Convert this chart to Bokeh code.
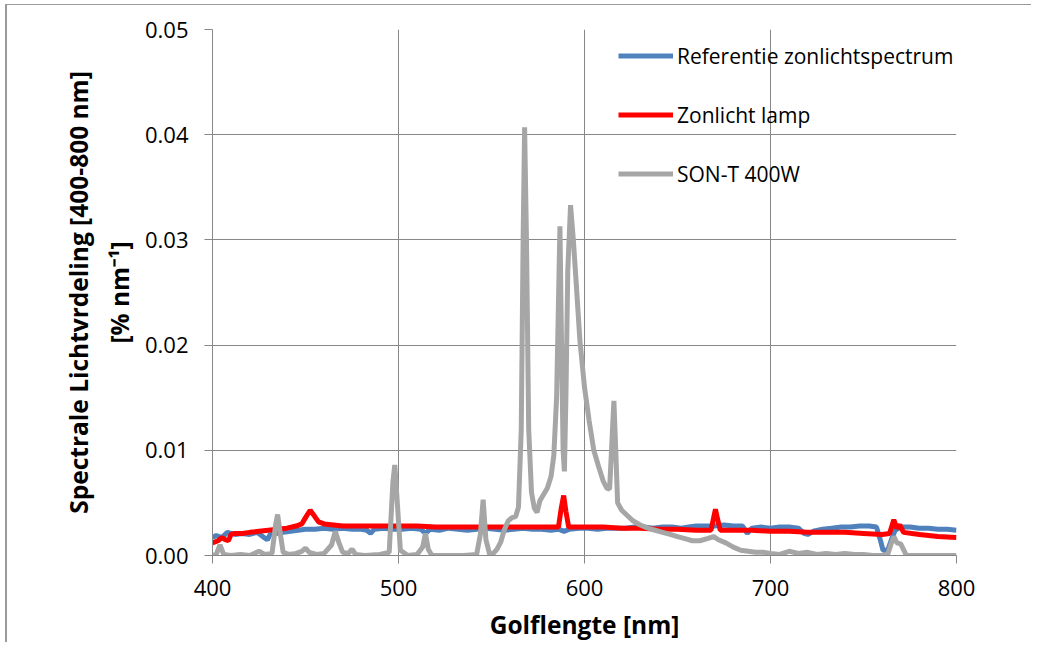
from bokeh.plotting import figure
from bokeh.models import (Range1d, SingleIntervalTicker, NumeralTickFormatter,
                          Legend, LegendItem, Title)
from bokeh.embed import file_html
from bokeh.resources import INLINE

# ---------------- data ----------------
ref_nm = [400, 402, 405, 408, 412, 416, 420, 424, 427, 429.5, 431, 434, 438, 442, 446,
          450, 455, 460, 465, 470, 475, 480, 483, 485, 487, 492, 497, 502, 507, 512,
          514.5, 517, 522, 527, 532, 537, 542, 547, 552, 557, 562, 567, 572, 577, 582,
          586, 589, 592, 597, 602, 607, 612, 617, 622, 627, 632, 637, 642, 647, 652,
          656, 660, 665, 670, 675, 680, 685, 687.5, 690, 695, 700, 705, 710, 715, 718,
          720, 723, 728, 733, 738, 743, 748, 753, 757, 759, 760.5, 763, 765, 767, 770,
          775, 780, 785, 790, 795, 800]
ref_val = [0.0017, 0.0019, 0.0017, 0.0022, 0.0020, 0.0021, 0.0020, 0.0022, 0.0018, 0.0015,
           0.0020, 0.0021, 0.0022, 0.0023, 0.0024, 0.0025, 0.0025, 0.0026, 0.0025, 0.0026,
           0.0025, 0.0025, 0.0024, 0.0021, 0.0025, 0.0026, 0.0025, 0.0025, 0.0026, 0.0025,
           0.0021, 0.0025, 0.0024, 0.0026, 0.0025, 0.0024, 0.0025, 0.0026, 0.0025, 0.0024,
           0.0025, 0.0026, 0.0025, 0.0025, 0.0024, 0.0025, 0.0023, 0.0025, 0.0026, 0.0026,
           0.0025, 0.0026, 0.0026, 0.0026, 0.0027, 0.0027, 0.0026, 0.0027, 0.0027, 0.0026,
           0.0027, 0.0028, 0.0028, 0.0028, 0.0029, 0.0028, 0.0028, 0.0021, 0.0026, 0.0027,
           0.0026, 0.0027, 0.0027, 0.0026, 0.0021, 0.0020, 0.0023, 0.0025, 0.0026, 0.0027,
           0.0027, 0.0028, 0.0028, 0.0027, 0.0015, 0.0005, 0.0005, 0.0015, 0.0024, 0.0027,
           0.0027, 0.0026, 0.0026, 0.0025, 0.0025, 0.0024]

lamp_nm = [400, 403, 405, 407, 408.5, 410, 412, 416, 420, 425, 430, 435, 440, 445, 448,
           450, 452.5, 455, 457, 460, 465, 470, 480, 490, 500, 510, 520, 530, 540, 550,
           560, 570, 580, 586, 587.5, 588.8, 590, 591.5, 600, 610, 620, 630, 640, 650,
           660, 668, 669.3, 670.4, 671.5, 673, 680, 690, 700, 710, 720, 730, 740, 750,
           760, 764, 766.3, 767.8, 769.5, 771.5, 780, 790, 800]
lamp_val = [0.0012, 0.0014, 0.0017, 0.0015, 0.0014, 0.0020, 0.0021, 0.0021, 0.0022, 0.0023,
            0.0024, 0.0025, 0.0026, 0.0028, 0.0030, 0.0036, 0.0043, 0.0037, 0.0032, 0.0030,
            0.0029, 0.0028, 0.0028, 0.0028, 0.0028, 0.0028, 0.0027, 0.0027, 0.0027, 0.0027,
            0.0027, 0.0027, 0.0027, 0.0027, 0.0045, 0.0057, 0.0042, 0.0027, 0.0027, 0.0027,
            0.0026, 0.0026, 0.0025, 0.0025, 0.0024, 0.0024, 0.0035, 0.0044, 0.0035, 0.0024,
            0.0024, 0.0024, 0.0023, 0.0023, 0.0022, 0.0022, 0.0022, 0.0021, 0.0020, 0.0021,
            0.0034, 0.0026, 0.0029, 0.0022, 0.0020, 0.0018, 0.0017]

son_nm = [400, 402, 404, 406, 410, 415, 420, 425, 428, 432, 434, 435, 436.5, 438, 441,
          445, 448, 450, 452, 456, 460, 464, 466, 468, 470, 473, 475, 477, 482, 490,
          495, 497, 498, 499, 501, 505, 510, 513, 514.5, 516, 518, 525, 535, 542, 544,
          545.5, 547, 549, 551, 553, 555, 557, 559, 561, 563, 564.5, 566, 567, 567.8,
          568.8, 570, 571.5, 573, 574.5, 576, 578, 580, 582, 583.5, 585, 586, 586.8,
          587.5, 588.5, 589.2, 590, 591, 592.5, 594, 595.5, 597.5, 600, 602.5, 605,
          607.5, 610, 612, 613.5, 614.8, 615.8, 616.8, 617.8, 620, 623, 626, 630, 634,
          638, 642, 646, 650, 654, 658, 662, 666, 669.5, 672, 676, 680, 684, 688, 692,
          696, 700, 705, 710, 715, 720, 725, 730, 735, 740, 745, 750, 755, 760, 763,
          765, 766.3, 768, 770, 772, 773, 780, 790, 800]
son_val = [0.0000, 0.0001, 0.0010, 0.0001, 0.0000, 0.0001, 0.0000, 0.0004, 0.0001, 0.0002,
           0.0030, 0.0039, 0.0020, 0.0003, 0.0001, 0.0002, 0.0004, 0.0007, 0.0003, 0.0001,
           0.0002, 0.0010, 0.0023, 0.0012, 0.0003, 0.0002, 0.0006, 0.0001, 0.0000, 0.0001,
           0.0003, 0.0070, 0.0086, 0.0060, 0.0005, 0.0000, 0.0001, 0.0008, 0.0021, 0.0006,
           0.0000, 0.0000, 0.0000, 0.0001, 0.0020, 0.0053, 0.0015, 0.0001, 0.0002, 0.0006,
           0.0013, 0.0025, 0.0033, 0.0036, 0.0037, 0.0046, 0.0120, 0.0300, 0.0407, 0.0300,
           0.0120, 0.0060, 0.0045, 0.0041, 0.0052, 0.0058, 0.0064, 0.0075, 0.0095, 0.0150,
           0.0240, 0.0313, 0.0220, 0.0100, 0.0080, 0.0150, 0.0270, 0.0333, 0.0300, 0.0260,
           0.0205, 0.0160, 0.0128, 0.0100, 0.0085, 0.0071, 0.0064, 0.0063, 0.0110, 0.0147,
           0.0100, 0.0050, 0.0043, 0.0038, 0.0033, 0.0029, 0.0026, 0.0024, 0.0022, 0.0020,
           0.0018, 0.0016, 0.0014, 0.0014, 0.0016, 0.0018, 0.0015, 0.0012, 0.0008, 0.0005,
           0.0004, 0.0003, 0.0003, 0.0002, 0.0001, 0.0004, 0.0002, 0.0003, 0.0001, 0.0002,
           0.0001, 0.0002, 0.0001, 0.0001, 0.0000, 0.0000, 0.0001, 0.0012, 0.0018, 0.0012,
           0.0011, 0.0004, 0.0000, 0.0000, 0.0000, 0.0000]

series_names = ["Referentie zonlichtspectrum", "Zonlicht lamp", "SON-T 400W"]
x_ticks_interval = 100
y_ticks_interval = 0.01

# ---------------- figure ----------------
FONT = "Open Sans"
GRID = "#878787"

p = figure(width=1026, height=638, x_range=Range1d(400, 800), y_range=Range1d(0, 0.05),
           output_backend="svg", toolbar_location=None,
           min_border_left=205, min_border_right=77, min_border_top=24, min_border_bottom=87)
p.styles = {"border-left": "2px solid #9a9a9a", "border-top": "1px solid #9a9a9a",
            "margin-left": "5px", "margin-top": "4px"}
p.outline_line_color = None
p.background_fill_color = "white"
p.border_fill_color = "white"

# axes
p.xaxis.ticker = SingleIntervalTicker(interval=x_ticks_interval, num_minor_ticks=0)
p.yaxis.ticker = SingleIntervalTicker(interval=y_ticks_interval, num_minor_ticks=0)
p.yaxis.formatter = NumeralTickFormatter(format="0.00")
for ax in (p.xaxis, p.yaxis):
    ax.axis_line_color = GRID
    ax.major_tick_line_color = GRID
    ax.minor_tick_line_color = None
    ax.major_tick_out = 8
    ax.major_tick_in = 0
    ax.major_label_text_font = FONT
    ax.major_label_text_font_size = "22px"
    ax.major_label_text_color = "black"
    ax.axis_label_text_font = FONT
    ax.axis_label_text_font_size = "24.5px"
    ax.axis_label_text_font_style = "bold"
    ax.axis_label_text_color = "black"

p.xaxis.major_label_standoff = 16
p.xaxis.axis_label = "Golflengte [nm]"
p.xaxis.axis_label_standoff = 9
p.yaxis.major_label_standoff = 16
p.yaxis.axis_label = "[% nm\u207b\u00b9]"
p.yaxis.axis_label_standoff = 6

p.add_layout(Title(text="Spectrale Lichtvrdeling [400-800 nm]", align="center",
                   text_font=FONT, text_font_size="24.5px", text_font_style="bold",
                   text_color="black", standoff=10), "left")

# grid
p.xgrid.grid_line_color = GRID
p.ygrid.grid_line_color = GRID
p.xgrid.grid_line_width = 1
p.ygrid.grid_line_width = 1

# lines
r1 = p.line(ref_nm, ref_val, line_color="#4F81BD", line_width=5)
r2 = p.line(lamp_nm, lamp_val, line_color="#FF0000", line_width=5)
r3 = p.line(son_nm, son_val, line_color="#A6A6A6", line_width=5)

legend = Legend(items=[LegendItem(label=series_names[0], renderers=[r1]),
                       LegendItem(label=series_names[1], renderers=[r2]),
                       LegendItem(label=series_names[2], renderers=[r3])],
                location=(406, 366))
legend.background_fill_alpha = 0
legend.border_line_color = None
legend.padding = 0
legend.margin = 0
legend.glyph_width = 55
legend.glyph_height = 31
legend.label_height = 31
legend.spacing = 28
legend.label_standoff = 4
legend.label_text_font = FONT
legend.label_text_font_size = "21px"
legend.label_text_color = "black"
p.add_layout(legend)

open("out.html", "w").write(file_html(p, INLINE))
